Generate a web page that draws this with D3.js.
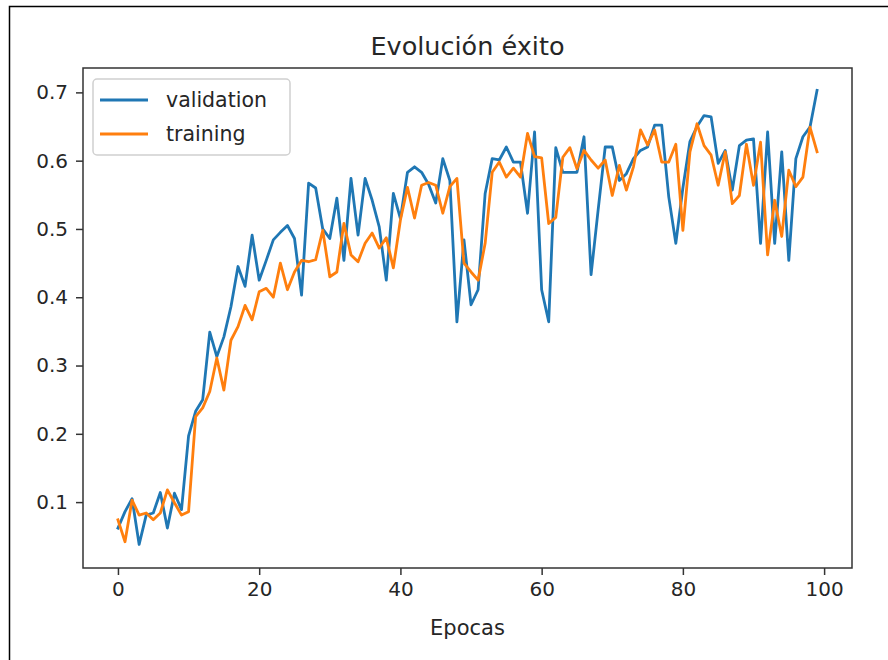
<!DOCTYPE html>
<html><head><meta charset="utf-8">
<script src="https://cdn.jsdelivr.net/npm/d3@7"></script>
<style>body{margin:0;background:#fff}svg{display:block}text{font-family:"DejaVu Sans",sans-serif;fill:#262626}</style>
</head><body>
<script>
const title = "Evolución éxito";
const xLabel = "Epocas";
const seriesNames = ["validation", "training"];
const seriesColors = ["#1f77b4", "#ff7f0e"];
const xTicks = [0, 20, 40, 60, 80, 100];
const yTicks = [0.1, 0.2, 0.3, 0.4, 0.5, 0.6, 0.7];
const validation = [0.062,0.086,0.105,0.038,0.081,0.084,0.114,0.062,0.113,0.089,
0.197,0.233,0.250,0.349,0.313,0.342,0.386,0.445,0.416,0.491,
0.425,0.454,0.484,0.495,0.505,0.486,0.403,0.567,0.560,0.500,
0.486,0.545,0.454,0.574,0.491,0.574,0.542,0.503,0.425,0.552,
0.515,0.583,0.591,0.583,0.565,0.538,0.603,0.571,0.364,0.484,
0.389,0.411,0.552,0.603,0.601,0.620,0.598,0.598,0.523,0.642,
0.411,0.364,0.619,0.583,0.583,0.583,0.635,0.433,0.528,0.620,
0.620,0.571,0.581,0.603,0.615,0.620,0.652,0.652,0.547,0.479,
0.560,0.628,0.650,0.666,0.664,0.596,0.615,0.557,0.622,0.630,
0.632,0.479,0.642,0.479,0.613,0.454,0.603,0.635,0.649,0.703];
const training = [0.074,0.042,0.103,0.081,0.084,0.074,0.084,0.118,0.099,0.081,
0.086,0.225,0.238,0.262,0.311,0.264,0.337,0.357,0.388,0.367,
0.408,0.413,0.400,0.450,0.411,0.437,0.454,0.452,0.455,0.498,
0.430,0.437,0.508,0.462,0.452,0.479,0.494,0.472,0.487,0.443,
0.513,0.561,0.516,0.564,0.568,0.564,0.523,0.562,0.574,0.450,
0.437,0.425,0.479,0.583,0.598,0.576,0.589,0.576,0.640,0.606,
0.604,0.508,0.517,0.605,0.619,0.588,0.615,0.601,0.589,0.601,
0.549,0.593,0.557,0.591,0.645,0.623,0.645,0.598,0.598,0.624,
0.498,0.613,0.654,0.622,0.608,0.564,0.613,0.537,0.549,0.624,
0.564,0.627,0.462,0.542,0.489,0.586,0.562,0.576,0.649,0.613];

const W = 888, H = 660;
const m = {left: 83, right: 852, top: 68, bottom: 568};
const svg = d3.select("body").append("svg").attr("width", W).attr("height", H);

// outer frame
svg.append("path").attr("d", `M9.5,${H} L9.5,6.5 L${W},6.5`).attr("fill","none").attr("stroke","#000").attr("stroke-width",1.5);

const x = d3.scaleLinear().domain([-4.95, 103.95]).range([m.left, m.right]);
const y = d3.scaleLinear().domain([0.0035, 0.7357]).range([m.bottom, m.top]);

const fmt = d3.format(".1f");
const xAxis = svg.append("g").attr("transform", `translate(0,${m.bottom})`)
  .call(d3.axisBottom(x).tickValues(xTicks).tickSize(7).tickPadding(7).tickFormat(d3.format("d")));
const yAxis = svg.append("g").attr("transform", `translate(${m.left},0)`)
  .call(d3.axisLeft(y).tickValues(yTicks).tickSize(7).tickPadding(8).tickFormat(fmt));
[xAxis, yAxis].forEach(g => {
  g.select(".domain").remove();
  g.selectAll(".tick line").attr("stroke", "#333").attr("stroke-width", 1.5);
  g.selectAll(".tick text").attr("font-size", 20).attr("font-family", "DejaVu Sans").attr("fill", "#262626");
});

const line = d3.line().x((d, i) => x(i)).y(d => y(d));
svg.append("clipPath").attr("id", "c").append("rect")
  .attr("x", m.left).attr("y", m.top).attr("width", m.right - m.left).attr("height", m.bottom - m.top);
[validation, training].forEach((s, k) => {
  svg.append("path").datum(s).attr("d", line).attr("fill", "none")
    .attr("stroke", seriesColors[k]).attr("stroke-width", 2.8)
    .attr("stroke-linejoin", "round").attr("stroke-linecap", "square")
    .attr("clip-path", "url(#c)");
});

// spines
svg.append("rect").attr("x", m.left).attr("y", m.top).attr("width", m.right - m.left).attr("height", m.bottom - m.top)
  .attr("fill", "none").attr("stroke", "#333").attr("stroke-width", 1.5);

svg.append("text").attr("x", (m.left + m.right) / 2).attr("y", 55).attr("text-anchor", "middle")
  .attr("font-size", 25.5).text(title);
svg.append("text").attr("x", (m.left + m.right) / 2).attr("y", 635).attr("text-anchor", "middle")
  .attr("font-size", 21).text(xLabel);

// legend
const lg = svg.append("g");
lg.append("rect").attr("x", 93).attr("y", 79).attr("width", 197).attr("height", 76).attr("rx", 4)
  .attr("fill", "#fff").attr("fill-opacity", 0.8).attr("stroke", "#d0d0d0").attr("stroke-width", 1.5);
seriesNames.forEach((n, k) => {
  const yy = 100 + k * 34;
  lg.append("line").attr("x1", 100).attr("x2", 148).attr("y1", yy).attr("y2", yy)
    .attr("stroke", seriesColors[k]).attr("stroke-width", 2.8);
  lg.append("text").attr("x", 166).attr("y", yy).attr("dy", "0.35em").attr("font-size", 20.5).text(n);
});
</script>
</body></html>
